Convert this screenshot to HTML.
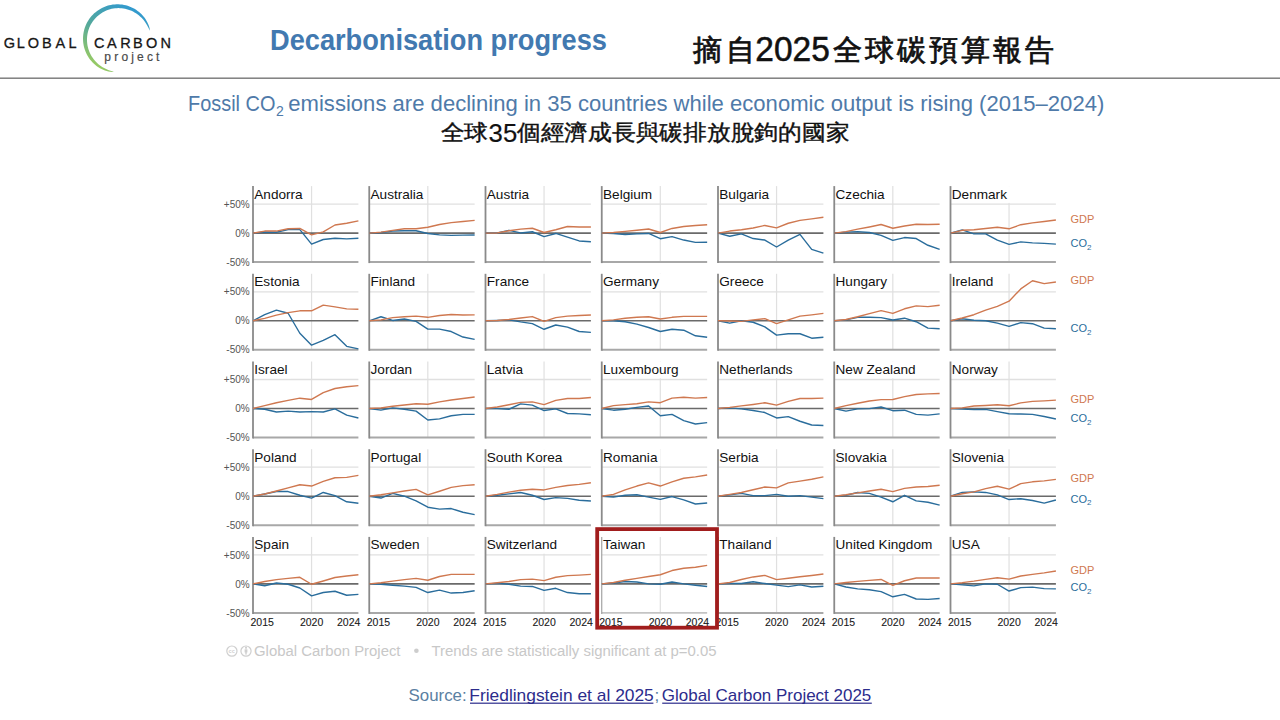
<!DOCTYPE html>
<html><head><meta charset="utf-8">
<style>
html,body{margin:0;padding:0;background:#fff;}
body{width:1280px;height:720px;position:relative;overflow:hidden;font-family:"Liberation Sans",sans-serif;}
svg{position:absolute;left:0;top:0;font-family:"Liberation Sans",sans-serif;}
text.cn{font-size:13.6px;fill:#111;}
text.yl{font-size:10px;fill:#555;}
text.yr{font-size:10.5px;fill:#1a1a1a;stroke:#1a1a1a;stroke-width:0.1px;}
text.lg{font-size:11px;}
</style></head><body>
<svg width="1280" height="720" viewBox="0 0 1280 720">
<rect x="0" y="77.6" width="1280" height="1.1" fill="#505050"/>
<defs><linearGradient id="arcg" gradientUnits="userSpaceOnUse" x1="140" y1="8" x2="100" y2="72">
<stop offset="0" stop-color="#2e98d4"/><stop offset="0.55" stop-color="#55a99a"/><stop offset="1" stop-color="#9fce5e"/></linearGradient></defs>
<path d="M149.88,30.66 L149.71,28.84 L149.26,27.08 L148.68,25.35 L147.99,23.66 L147.19,22.01 L146.30,20.41 L145.31,18.86 L144.23,17.36 L143.06,15.93 L141.82,14.56 L140.49,13.26 L139.09,12.04 L137.63,10.89 L136.10,9.82 L134.51,8.84 L132.87,7.95 L131.17,7.15 L129.44,6.44 L127.66,5.83 L125.85,5.32 L124.02,4.91 L122.16,4.60 L120.29,4.39 L118.40,4.29 L116.51,4.29 L114.63,4.39 L112.75,4.60 L110.88,4.91 L109.03,5.33 L107.21,5.84 L105.42,6.46 L103.66,7.17 L101.94,7.98 L100.27,8.88 L98.66,9.88 L97.10,10.96 L95.60,12.13 L94.16,13.37 L92.80,14.70 L91.51,16.09 L90.30,17.56 L89.18,19.09 L88.14,20.68 L87.18,22.32 L86.32,24.02 L85.56,25.75 L84.89,27.53 L84.32,29.34 L83.85,31.18 L83.49,33.04 L83.22,34.91 L83.06,36.80 L83.01,38.69 L83.06,40.58 L83.21,42.47 L83.47,44.34 L83.82,46.19 L84.28,48.02 L84.84,49.82 L85.50,51.58 L86.25,53.30 L87.10,54.98 L88.03,56.60 L89.06,58.17 L90.16,59.68 L91.35,61.12 L92.61,62.49 L93.95,63.79 L95.35,65.00 L96.82,66.14 L98.35,67.19 L99.93,68.15 L101.55,69.01 L103.22,69.78 L104.93,70.45 L106.68,71.02 L108.44,71.48 L110.23,71.82 L112.04,72.02 L113.86,71.94 L113.86,71.94 L112.17,71.31 L110.48,70.79 L108.82,70.21 L107.20,69.56 L105.61,68.84 L104.07,68.04 L102.57,67.18 L101.12,66.24 L99.72,65.22 L98.39,64.15 L97.11,63.00 L95.90,61.79 L94.75,60.53 L93.67,59.21 L92.67,57.83 L91.74,56.41 L90.89,54.94 L90.12,53.43 L89.43,51.89 L88.82,50.31 L88.30,48.71 L87.86,47.08 L87.51,45.43 L87.25,43.77 L87.08,42.10 L86.99,40.43 L87.00,38.75 L87.09,37.08 L87.27,35.41 L87.54,33.76 L87.90,32.13 L88.34,30.51 L88.86,28.93 L89.47,27.37 L90.16,25.85 L90.93,24.37 L91.78,22.94 L92.70,21.55 L93.69,20.21 L94.75,18.92 L95.88,17.69 L97.07,16.53 L98.33,15.43 L99.64,14.39 L101.00,13.43 L102.41,12.54 L103.87,11.73 L105.37,10.99 L106.91,10.33 L108.48,9.76 L110.08,9.27 L111.70,8.86 L113.35,8.55 L115.01,8.31 L116.68,8.17 L118.36,8.12 L120.04,8.15 L121.72,8.27 L123.39,8.48 L125.05,8.78 L126.69,9.17 L128.32,9.65 L129.92,10.20 L131.49,10.85 L133.02,11.58 L134.52,12.38 L135.98,13.27 L137.39,14.24 L138.75,15.27 L140.05,16.38 L141.30,17.56 L142.49,18.81 L143.62,20.11 L144.69,21.48 L145.68,22.90 L146.61,24.38 L147.47,25.90 L148.27,27.46 L149.02,29.06 L149.88,30.66Z" fill="url(#arcg)"/>
<text x="3.70 16.80 27.80 42.10 55.60 68.50" y="47.6" font-size="14.5" fill="#161616" stroke="#161616" stroke-width="0.3">GLOBAL</text>
<text x="93.90 106.90 120.20 132.90 145.90 160.60" y="47.6" font-size="14.5" fill="#161616" stroke="#161616" stroke-width="0.3">CARBON</text>
<text x="104.20 114.20 121.60 131.20 137.10 147.10 155.90" y="60.6" font-size="12" fill="#4a4a4a" stroke="#4a4a4a" stroke-width="0.2">project</text>
<text x="270" y="50" font-size="29.5" font-weight="bold" fill="#4279b0" textLength="337" lengthAdjust="spacingAndGlyphs">Decarbonisation progress</text>
<text x="692.50" y="59.5" font-size="29" fill="#111" stroke="#111" stroke-width="0.75">摘</text>
<text x="726.30" y="59.5" font-size="29" fill="#111" stroke="#111" stroke-width="0.75">自</text>
<text x="832.50" y="59.5" font-size="29" fill="#111" stroke="#111" stroke-width="0.75">全</text>
<text x="864.50" y="59.5" font-size="29" fill="#111" stroke="#111" stroke-width="0.75">球</text>
<text x="896.50" y="59.5" font-size="29" fill="#111" stroke="#111" stroke-width="0.75">碳</text>
<text x="928.70" y="59.5" font-size="29" fill="#111" stroke="#111" stroke-width="0.75">預</text>
<text x="960.70" y="59.5" font-size="29" fill="#111" stroke="#111" stroke-width="0.75">算</text>
<text x="992.70" y="59.5" font-size="29" fill="#111" stroke="#111" stroke-width="0.75">報</text>
<text x="1024.50" y="59.5" font-size="29" fill="#111" stroke="#111" stroke-width="0.75">告</text>
<text x="755.3" y="61.3" font-size="35.5" fill="#111" stroke="#111" stroke-width="0.55" textLength="74.5" lengthAdjust="spacingAndGlyphs">2025</text>
<text y="110.9" font-size="21.5" fill="#4f7aa9"><tspan x="188" textLength="87.5" lengthAdjust="spacingAndGlyphs">Fossil CO</tspan></text>
<text x="276" y="115.5" font-size="14" fill="#4f7aa9">2</text>
<text y="110.9" font-size="21.5" fill="#4f7aa9"><tspan x="288.3" textLength="816" lengthAdjust="spacingAndGlyphs">emissions are declining in 35 countries while economic output is rising (2015–2024)</tspan></text>
<text transform="translate(440.90,140) scale(1.08,1)" font-size="21.6" fill="#111" stroke="#111" stroke-width="0.4">全</text>
<text transform="translate(463.90,140) scale(1.08,1)" font-size="21.6" fill="#111" stroke="#111" stroke-width="0.4">球</text>
<text transform="translate(516.90,140) scale(1.08,1)" font-size="21.6" fill="#111" stroke="#111" stroke-width="0.4">個</text>
<text transform="translate(540.65,140) scale(1.08,1)" font-size="21.6" fill="#111" stroke="#111" stroke-width="0.4">經</text>
<text transform="translate(564.40,140) scale(1.08,1)" font-size="21.6" fill="#111" stroke="#111" stroke-width="0.4">濟</text>
<text transform="translate(588.15,140) scale(1.08,1)" font-size="21.6" fill="#111" stroke="#111" stroke-width="0.4">成</text>
<text transform="translate(611.90,140) scale(1.08,1)" font-size="21.6" fill="#111" stroke="#111" stroke-width="0.4">長</text>
<text transform="translate(635.65,140) scale(1.08,1)" font-size="21.6" fill="#111" stroke="#111" stroke-width="0.4">與</text>
<text transform="translate(659.40,140) scale(1.08,1)" font-size="21.6" fill="#111" stroke="#111" stroke-width="0.4">碳</text>
<text transform="translate(683.15,140) scale(1.08,1)" font-size="21.6" fill="#111" stroke="#111" stroke-width="0.4">排</text>
<text transform="translate(706.90,140) scale(1.08,1)" font-size="21.6" fill="#111" stroke="#111" stroke-width="0.4">放</text>
<text transform="translate(730.65,140) scale(1.08,1)" font-size="21.6" fill="#111" stroke="#111" stroke-width="0.4">脫</text>
<text transform="translate(754.40,140) scale(1.08,1)" font-size="21.6" fill="#111" stroke="#111" stroke-width="0.4">鉤</text>
<text transform="translate(778.15,140) scale(1.08,1)" font-size="21.6" fill="#111" stroke="#111" stroke-width="0.4">的</text>
<text transform="translate(801.90,140) scale(1.08,1)" font-size="21.6" fill="#111" stroke="#111" stroke-width="0.4">國</text>
<text transform="translate(825.65,140) scale(1.08,1)" font-size="21.6" fill="#111" stroke="#111" stroke-width="0.4">家</text>
<text x="488.6" y="141.6" font-size="25.5" fill="#111" stroke="#111" stroke-width="0.2" textLength="28.6" lengthAdjust="spacingAndGlyphs">35</text>
<line x1="253.00" y1="204.10" x2="358.40" y2="204.10" stroke="#e0e0e0" stroke-width="1.3"/>
<line x1="311.56" y1="186.10" x2="311.56" y2="262.10" stroke="#e0e0e0" stroke-width="1.2"/>
<rect x="254.00" y="186.10" width="51.88" height="16.80" fill="#fff"/>
<text x="254.30" y="198.50" class="cn">Andorra</text>
<line x1="253.00" y1="233.10" x2="358.40" y2="233.10" stroke="#6a6a6a" stroke-width="1.6"/>
<line x1="253.00" y1="262.10" x2="358.40" y2="262.10" stroke="#a8a8a8" stroke-width="2"/>
<line x1="253.00" y1="186.10" x2="253.00" y2="263.10" stroke="#8a8a8a" stroke-width="1.8"/>
<polyline points="253.00,233.10 264.71,231.94 276.42,232.23 288.13,229.62 299.84,229.62 311.56,244.12 323.27,239.48 334.98,238.32 346.69,238.90 358.40,238.32" fill="none" stroke="#2a6d9c" stroke-width="1.4" stroke-linejoin="round"/>
<polyline points="253.00,233.10 264.71,231.07 276.42,231.07 288.13,228.75 299.84,228.46 311.56,234.84 323.27,231.94 334.98,224.98 346.69,223.24 358.40,220.92" fill="none" stroke="#cf7850" stroke-width="1.4" stroke-linejoin="round"/>
<line x1="369.25" y1="204.10" x2="474.65" y2="204.10" stroke="#e0e0e0" stroke-width="1.3"/>
<line x1="427.81" y1="186.10" x2="427.81" y2="262.10" stroke="#e0e0e0" stroke-width="1.2"/>
<rect x="370.25" y="186.10" width="56.41" height="16.80" fill="#fff"/>
<text x="370.55" y="198.50" class="cn">Australia</text>
<line x1="369.25" y1="233.10" x2="474.65" y2="233.10" stroke="#6a6a6a" stroke-width="1.6"/>
<line x1="369.25" y1="262.10" x2="474.65" y2="262.10" stroke="#a8a8a8" stroke-width="2"/>
<line x1="369.25" y1="186.10" x2="369.25" y2="263.10" stroke="#8a8a8a" stroke-width="1.8"/>
<polyline points="369.25,233.10 380.96,232.52 392.67,231.07 404.38,230.78 416.09,230.78 427.81,233.45 439.52,234.84 451.23,235.42 462.94,235.13 474.65,234.96" fill="none" stroke="#2a6d9c" stroke-width="1.4" stroke-linejoin="round"/>
<polyline points="369.25,233.10 380.96,232.17 392.67,230.32 404.38,228.81 416.09,228.81 427.81,227.30 439.52,224.52 451.23,222.66 462.94,221.50 474.65,220.34" fill="none" stroke="#cf7850" stroke-width="1.4" stroke-linejoin="round"/>
<line x1="485.50" y1="204.10" x2="590.90" y2="204.10" stroke="#e0e0e0" stroke-width="1.3"/>
<line x1="544.06" y1="186.10" x2="544.06" y2="262.10" stroke="#e0e0e0" stroke-width="1.2"/>
<rect x="486.50" y="186.10" width="45.83" height="16.80" fill="#fff"/>
<text x="486.80" y="198.50" class="cn">Austria</text>
<line x1="485.50" y1="233.10" x2="590.90" y2="233.10" stroke="#6a6a6a" stroke-width="1.6"/>
<line x1="485.50" y1="262.10" x2="590.90" y2="262.10" stroke="#a8a8a8" stroke-width="2"/>
<line x1="485.50" y1="186.10" x2="485.50" y2="263.10" stroke="#8a8a8a" stroke-width="1.8"/>
<polyline points="485.50,233.10 497.21,232.93 508.92,230.32 520.63,232.93 532.34,231.77 544.06,236.58 555.77,233.45 567.48,237.16 579.19,240.93 590.90,241.80" fill="none" stroke="#2a6d9c" stroke-width="1.4" stroke-linejoin="round"/>
<polyline points="485.50,233.10 497.21,232.93 508.92,230.78 520.63,229.16 532.34,228.23 544.06,232.52 555.77,229.74 567.48,226.55 579.19,226.95 590.90,226.95" fill="none" stroke="#cf7850" stroke-width="1.4" stroke-linejoin="round"/>
<line x1="601.75" y1="204.10" x2="707.15" y2="204.10" stroke="#e0e0e0" stroke-width="1.3"/>
<line x1="660.31" y1="186.10" x2="660.31" y2="262.10" stroke="#e0e0e0" stroke-width="1.2"/>
<rect x="602.75" y="186.10" width="52.63" height="16.80" fill="#fff"/>
<text x="603.05" y="198.50" class="cn">Belgium</text>
<line x1="601.75" y1="233.10" x2="707.15" y2="233.10" stroke="#6a6a6a" stroke-width="1.6"/>
<line x1="601.75" y1="262.10" x2="707.15" y2="262.10" stroke="#a8a8a8" stroke-width="2"/>
<line x1="601.75" y1="186.10" x2="601.75" y2="263.10" stroke="#8a8a8a" stroke-width="1.8"/>
<polyline points="601.75,233.10 613.46,233.45 625.17,234.43 636.88,233.85 648.59,233.45 660.31,238.73 672.02,236.58 683.73,240.06 695.44,242.38 707.15,242.26" fill="none" stroke="#2a6d9c" stroke-width="1.4" stroke-linejoin="round"/>
<polyline points="601.75,233.10 613.46,232.52 625.17,231.42 636.88,230.32 648.59,229.04 660.31,232.52 672.02,228.46 683.73,226.55 695.44,225.44 707.15,224.69" fill="none" stroke="#cf7850" stroke-width="1.4" stroke-linejoin="round"/>
<line x1="718.00" y1="204.10" x2="823.40" y2="204.10" stroke="#e0e0e0" stroke-width="1.3"/>
<line x1="776.56" y1="186.10" x2="776.56" y2="262.10" stroke="#e0e0e0" stroke-width="1.2"/>
<rect x="719.00" y="186.10" width="53.40" height="16.80" fill="#fff"/>
<text x="719.30" y="198.50" class="cn">Bulgaria</text>
<line x1="718.00" y1="233.10" x2="823.40" y2="233.10" stroke="#6a6a6a" stroke-width="1.6"/>
<line x1="718.00" y1="262.10" x2="823.40" y2="262.10" stroke="#a8a8a8" stroke-width="2"/>
<line x1="718.00" y1="186.10" x2="718.00" y2="263.10" stroke="#8a8a8a" stroke-width="1.8"/>
<polyline points="718.00,233.10 729.71,236.29 741.42,233.85 753.13,238.55 764.84,240.06 776.56,247.02 788.27,240.06 799.98,234.43 811.69,249.34 823.40,253.11" fill="none" stroke="#2a6d9c" stroke-width="1.4" stroke-linejoin="round"/>
<polyline points="718.00,233.10 729.71,231.07 741.42,229.74 753.13,228.05 764.84,225.44 776.56,227.88 788.27,223.24 799.98,220.34 811.69,218.89 823.40,217.21" fill="none" stroke="#cf7850" stroke-width="1.4" stroke-linejoin="round"/>
<line x1="834.25" y1="204.10" x2="939.65" y2="204.10" stroke="#e0e0e0" stroke-width="1.3"/>
<line x1="892.81" y1="186.10" x2="892.81" y2="262.10" stroke="#e0e0e0" stroke-width="1.2"/>
<rect x="835.25" y="186.10" width="52.63" height="16.80" fill="#fff"/>
<text x="835.55" y="198.50" class="cn">Czechia</text>
<line x1="834.25" y1="233.10" x2="939.65" y2="233.10" stroke="#6a6a6a" stroke-width="1.6"/>
<line x1="834.25" y1="262.10" x2="939.65" y2="262.10" stroke="#a8a8a8" stroke-width="2"/>
<line x1="834.25" y1="186.10" x2="834.25" y2="263.10" stroke="#8a8a8a" stroke-width="1.8"/>
<polyline points="834.25,233.10 845.96,232.17 857.67,231.59 869.38,232.52 881.09,235.36 892.81,240.41 904.52,237.57 916.23,238.55 927.94,245.28 939.65,249.34" fill="none" stroke="#2a6d9c" stroke-width="1.4" stroke-linejoin="round"/>
<polyline points="834.25,233.10 845.96,231.59 857.67,229.16 869.38,226.95 881.09,224.52 892.81,228.23 904.52,225.97 916.23,224.28 927.94,224.52 939.65,224.28" fill="none" stroke="#cf7850" stroke-width="1.4" stroke-linejoin="round"/>
<line x1="950.50" y1="204.10" x2="1055.90" y2="204.10" stroke="#e0e0e0" stroke-width="1.3"/>
<line x1="1009.06" y1="186.10" x2="1009.06" y2="262.10" stroke="#e0e0e0" stroke-width="1.2"/>
<rect x="951.50" y="186.10" width="58.67" height="16.80" fill="#fff"/>
<text x="951.80" y="198.50" class="cn">Denmark</text>
<line x1="950.50" y1="233.10" x2="1055.90" y2="233.10" stroke="#6a6a6a" stroke-width="1.6"/>
<line x1="950.50" y1="262.10" x2="1055.90" y2="262.10" stroke="#a8a8a8" stroke-width="2"/>
<line x1="950.50" y1="186.10" x2="950.50" y2="263.10" stroke="#8a8a8a" stroke-width="1.8"/>
<polyline points="950.50,233.10 962.21,229.91 973.92,233.85 985.63,233.85 997.34,240.06 1009.06,244.35 1020.77,241.92 1032.48,242.84 1044.19,243.37 1055.90,244.12" fill="none" stroke="#2a6d9c" stroke-width="1.4" stroke-linejoin="round"/>
<polyline points="950.50,233.10 962.21,230.32 973.92,229.74 985.63,228.46 997.34,227.30 1009.06,228.81 1020.77,224.69 1032.48,222.83 1044.19,221.50 1055.90,219.99" fill="none" stroke="#cf7850" stroke-width="1.4" stroke-linejoin="round"/>
<text x="249.7" y="207.70" class="yl" text-anchor="end">+50%</text>
<text x="249.7" y="236.70" class="yl" text-anchor="end">0%</text>
<text x="249.7" y="265.70" class="yl" text-anchor="end">-50%</text>
<line x1="253.00" y1="291.80" x2="358.40" y2="291.80" stroke="#e0e0e0" stroke-width="1.3"/>
<line x1="311.56" y1="273.80" x2="311.56" y2="349.80" stroke="#e0e0e0" stroke-width="1.2"/>
<rect x="254.00" y="273.80" width="48.86" height="16.80" fill="#fff"/>
<text x="254.30" y="286.20" class="cn">Estonia</text>
<line x1="253.00" y1="320.80" x2="358.40" y2="320.80" stroke="#6a6a6a" stroke-width="1.6"/>
<line x1="253.00" y1="349.80" x2="358.40" y2="349.80" stroke="#a8a8a8" stroke-width="2"/>
<line x1="253.00" y1="273.80" x2="253.00" y2="350.80" stroke="#8a8a8a" stroke-width="1.8"/>
<polyline points="253.00,320.80 264.71,314.54 276.42,310.19 288.13,313.26 299.84,333.27 311.56,345.16 323.27,340.29 334.98,334.72 346.69,346.32 358.40,348.93" fill="none" stroke="#2a6d9c" stroke-width="1.4" stroke-linejoin="round"/>
<polyline points="253.00,320.80 264.71,318.31 276.42,315.17 288.13,312.68 299.84,310.82 311.56,310.82 323.27,305.14 334.98,306.88 346.69,308.91 358.40,309.20" fill="none" stroke="#cf7850" stroke-width="1.4" stroke-linejoin="round"/>
<line x1="369.25" y1="291.80" x2="474.65" y2="291.80" stroke="#e0e0e0" stroke-width="1.3"/>
<line x1="427.81" y1="273.80" x2="427.81" y2="349.80" stroke="#e0e0e0" stroke-width="1.2"/>
<rect x="370.25" y="273.80" width="48.10" height="16.80" fill="#fff"/>
<text x="370.55" y="286.20" class="cn">Finland</text>
<line x1="369.25" y1="320.80" x2="474.65" y2="320.80" stroke="#6a6a6a" stroke-width="1.6"/>
<line x1="369.25" y1="349.80" x2="474.65" y2="349.80" stroke="#a8a8a8" stroke-width="2"/>
<line x1="369.25" y1="273.80" x2="369.25" y2="350.80" stroke="#8a8a8a" stroke-width="1.8"/>
<polyline points="369.25,320.80 380.96,316.74 392.67,320.45 404.38,319.06 416.09,321.38 427.81,329.09 439.52,329.09 451.23,331.53 462.94,337.04 474.65,339.36" fill="none" stroke="#2a6d9c" stroke-width="1.4" stroke-linejoin="round"/>
<polyline points="369.25,320.80 380.96,319.87 392.67,317.67 404.38,316.74 416.09,316.16 427.81,317.32 439.52,315.46 451.23,314.54 462.94,315.06 474.65,314.88" fill="none" stroke="#cf7850" stroke-width="1.4" stroke-linejoin="round"/>
<line x1="485.50" y1="291.80" x2="590.90" y2="291.80" stroke="#e0e0e0" stroke-width="1.3"/>
<line x1="544.06" y1="273.80" x2="544.06" y2="349.80" stroke="#e0e0e0" stroke-width="1.2"/>
<rect x="486.50" y="273.80" width="45.82" height="16.80" fill="#fff"/>
<text x="486.80" y="286.20" class="cn">France</text>
<line x1="485.50" y1="320.80" x2="590.90" y2="320.80" stroke="#6a6a6a" stroke-width="1.6"/>
<line x1="485.50" y1="349.80" x2="590.90" y2="349.80" stroke="#a8a8a8" stroke-width="2"/>
<line x1="485.50" y1="273.80" x2="485.50" y2="350.80" stroke="#8a8a8a" stroke-width="1.8"/>
<polyline points="485.50,320.80 497.21,320.45 508.92,319.87 520.63,321.90 532.34,323.58 544.06,329.27 555.77,325.03 567.48,327.18 579.19,331.53 590.90,332.40" fill="none" stroke="#2a6d9c" stroke-width="1.4" stroke-linejoin="round"/>
<polyline points="485.50,320.80 497.21,320.45 508.92,319.52 520.63,318.02 532.34,316.57 544.06,321.38 555.77,317.67 567.48,316.16 579.19,315.46 590.90,315.06" fill="none" stroke="#cf7850" stroke-width="1.4" stroke-linejoin="round"/>
<line x1="601.75" y1="291.80" x2="707.15" y2="291.80" stroke="#e0e0e0" stroke-width="1.3"/>
<line x1="660.31" y1="273.80" x2="660.31" y2="349.80" stroke="#e0e0e0" stroke-width="1.2"/>
<rect x="602.75" y="273.80" width="59.42" height="16.80" fill="#fff"/>
<text x="603.05" y="286.20" class="cn">Germany</text>
<line x1="601.75" y1="320.80" x2="707.15" y2="320.80" stroke="#6a6a6a" stroke-width="1.6"/>
<line x1="601.75" y1="349.80" x2="707.15" y2="349.80" stroke="#a8a8a8" stroke-width="2"/>
<line x1="601.75" y1="273.80" x2="601.75" y2="350.80" stroke="#8a8a8a" stroke-width="1.8"/>
<polyline points="601.75,320.80 613.46,320.80 625.17,321.73 636.88,324.11 648.59,327.47 660.31,331.53 672.02,329.27 683.73,330.20 695.44,335.76 707.15,337.21" fill="none" stroke="#2a6d9c" stroke-width="1.4" stroke-linejoin="round"/>
<polyline points="601.75,320.80 613.46,319.87 625.17,318.19 636.88,317.32 648.59,316.74 660.31,318.94 672.02,317.32 683.73,316.39 695.44,316.39 707.15,316.39" fill="none" stroke="#cf7850" stroke-width="1.4" stroke-linejoin="round"/>
<line x1="718.00" y1="291.80" x2="823.40" y2="291.80" stroke="#e0e0e0" stroke-width="1.3"/>
<line x1="776.56" y1="273.80" x2="776.56" y2="349.80" stroke="#e0e0e0" stroke-width="1.2"/>
<rect x="719.00" y="273.80" width="48.10" height="16.80" fill="#fff"/>
<text x="719.30" y="286.20" class="cn">Greece</text>
<line x1="718.00" y1="320.80" x2="823.40" y2="320.80" stroke="#6a6a6a" stroke-width="1.6"/>
<line x1="718.00" y1="349.80" x2="823.40" y2="349.80" stroke="#a8a8a8" stroke-width="2"/>
<line x1="718.00" y1="273.80" x2="718.00" y2="350.80" stroke="#8a8a8a" stroke-width="1.8"/>
<polyline points="718.00,320.80 729.71,323.18 741.42,320.80 753.13,322.25 764.84,326.89 776.56,335.18 788.27,333.73 799.98,333.73 811.69,338.20 823.40,337.21" fill="none" stroke="#2a6d9c" stroke-width="1.4" stroke-linejoin="round"/>
<polyline points="718.00,320.80 729.71,320.97 741.42,321.38 753.13,319.87 764.84,318.60 776.56,323.58 788.27,319.87 799.98,316.16 811.69,314.88 823.40,313.43" fill="none" stroke="#cf7850" stroke-width="1.4" stroke-linejoin="round"/>
<line x1="834.25" y1="291.80" x2="939.65" y2="291.80" stroke="#e0e0e0" stroke-width="1.3"/>
<line x1="892.81" y1="273.80" x2="892.81" y2="349.80" stroke="#e0e0e0" stroke-width="1.2"/>
<rect x="835.25" y="273.80" width="54.90" height="16.80" fill="#fff"/>
<text x="835.55" y="286.20" class="cn">Hungary</text>
<line x1="834.25" y1="320.80" x2="939.65" y2="320.80" stroke="#6a6a6a" stroke-width="1.6"/>
<line x1="834.25" y1="349.80" x2="939.65" y2="349.80" stroke="#a8a8a8" stroke-width="2"/>
<line x1="834.25" y1="273.80" x2="834.25" y2="350.80" stroke="#8a8a8a" stroke-width="1.8"/>
<polyline points="834.25,320.80 845.96,319.87 857.67,317.32 869.38,317.32 881.09,317.67 892.81,320.05 904.52,318.19 916.23,321.73 927.94,328.17 939.65,328.75" fill="none" stroke="#2a6d9c" stroke-width="1.4" stroke-linejoin="round"/>
<polyline points="834.25,320.80 845.96,319.52 857.67,316.74 869.38,313.61 881.09,310.65 892.81,313.43 904.52,308.79 916.23,305.84 927.94,306.59 939.65,305.26" fill="none" stroke="#cf7850" stroke-width="1.4" stroke-linejoin="round"/>
<line x1="950.50" y1="291.80" x2="1055.90" y2="291.80" stroke="#e0e0e0" stroke-width="1.3"/>
<line x1="1009.06" y1="273.80" x2="1009.06" y2="349.80" stroke="#e0e0e0" stroke-width="1.2"/>
<rect x="951.50" y="273.80" width="45.08" height="16.80" fill="#fff"/>
<text x="951.80" y="286.20" class="cn">Ireland</text>
<line x1="950.50" y1="320.80" x2="1055.90" y2="320.80" stroke="#6a6a6a" stroke-width="1.6"/>
<line x1="950.50" y1="349.80" x2="1055.90" y2="349.80" stroke="#a8a8a8" stroke-width="2"/>
<line x1="950.50" y1="273.80" x2="950.50" y2="350.80" stroke="#8a8a8a" stroke-width="1.8"/>
<polyline points="950.50,320.80 962.21,318.77 973.92,320.22 985.63,320.80 997.34,323.12 1009.06,326.31 1020.77,322.66 1032.48,323.70 1044.19,328.17 1055.90,328.75" fill="none" stroke="#2a6d9c" stroke-width="1.4" stroke-linejoin="round"/>
<polyline points="950.50,320.80 962.21,318.02 973.92,314.71 985.63,310.07 997.34,306.30 1009.06,301.20 1020.77,288.90 1032.48,280.78 1044.19,283.68 1055.90,281.94" fill="none" stroke="#cf7850" stroke-width="1.4" stroke-linejoin="round"/>
<text x="249.7" y="295.40" class="yl" text-anchor="end">+50%</text>
<text x="249.7" y="324.40" class="yl" text-anchor="end">0%</text>
<text x="249.7" y="353.40" class="yl" text-anchor="end">-50%</text>
<line x1="253.00" y1="379.50" x2="358.40" y2="379.50" stroke="#e0e0e0" stroke-width="1.3"/>
<line x1="311.56" y1="361.50" x2="311.56" y2="437.50" stroke="#e0e0e0" stroke-width="1.2"/>
<rect x="254.00" y="361.50" width="36.75" height="16.80" fill="#fff"/>
<text x="254.30" y="373.90" class="cn">Israel</text>
<line x1="253.00" y1="408.50" x2="358.40" y2="408.50" stroke="#6a6a6a" stroke-width="1.6"/>
<line x1="253.00" y1="437.50" x2="358.40" y2="437.50" stroke="#a8a8a8" stroke-width="2"/>
<line x1="253.00" y1="361.50" x2="253.00" y2="438.50" stroke="#8a8a8a" stroke-width="1.8"/>
<polyline points="253.00,408.50 264.71,409.25 276.42,411.98 288.13,411.11 299.84,411.98 311.56,411.63 323.27,411.98 334.98,408.85 346.69,415.17 358.40,417.95" fill="none" stroke="#2a6d9c" stroke-width="1.4" stroke-linejoin="round"/>
<polyline points="253.00,408.50 264.71,405.60 276.42,402.70 288.13,400.38 299.84,398.18 311.56,399.45 323.27,392.61 334.98,388.49 346.69,386.75 358.40,385.59" fill="none" stroke="#cf7850" stroke-width="1.4" stroke-linejoin="round"/>
<line x1="369.25" y1="379.50" x2="474.65" y2="379.50" stroke="#e0e0e0" stroke-width="1.3"/>
<line x1="427.81" y1="361.50" x2="427.81" y2="437.50" stroke="#e0e0e0" stroke-width="1.2"/>
<rect x="370.25" y="361.50" width="45.08" height="16.80" fill="#fff"/>
<text x="370.55" y="373.90" class="cn">Jordan</text>
<line x1="369.25" y1="408.50" x2="474.65" y2="408.50" stroke="#6a6a6a" stroke-width="1.6"/>
<line x1="369.25" y1="437.50" x2="474.65" y2="437.50" stroke="#a8a8a8" stroke-width="2"/>
<line x1="369.25" y1="361.50" x2="369.25" y2="438.50" stroke="#8a8a8a" stroke-width="1.8"/>
<polyline points="369.25,408.50 380.96,410.18 392.67,407.92 404.38,409.25 416.09,411.11 427.81,419.98 439.52,418.88 451.23,415.75 462.94,414.42 474.65,414.42" fill="none" stroke="#2a6d9c" stroke-width="1.4" stroke-linejoin="round"/>
<polyline points="369.25,408.50 380.96,407.92 392.67,406.30 404.38,405.02 416.09,403.69 427.81,404.21 439.52,401.83 451.23,399.97 462.94,398.47 474.65,397.02" fill="none" stroke="#cf7850" stroke-width="1.4" stroke-linejoin="round"/>
<line x1="485.50" y1="379.50" x2="590.90" y2="379.50" stroke="#e0e0e0" stroke-width="1.3"/>
<line x1="544.06" y1="361.50" x2="544.06" y2="437.50" stroke="#e0e0e0" stroke-width="1.2"/>
<rect x="486.50" y="361.50" width="39.79" height="16.80" fill="#fff"/>
<text x="486.80" y="373.90" class="cn">Latvia</text>
<line x1="485.50" y1="408.50" x2="590.90" y2="408.50" stroke="#6a6a6a" stroke-width="1.6"/>
<line x1="485.50" y1="437.50" x2="590.90" y2="437.50" stroke="#a8a8a8" stroke-width="2"/>
<line x1="485.50" y1="361.50" x2="485.50" y2="438.50" stroke="#8a8a8a" stroke-width="1.8"/>
<polyline points="485.50,408.50 497.21,408.67 508.92,409.25 520.63,403.86 532.34,405.14 544.06,410.53 555.77,408.85 567.48,413.49 579.19,413.89 590.90,414.82" fill="none" stroke="#2a6d9c" stroke-width="1.4" stroke-linejoin="round"/>
<polyline points="485.50,408.50 497.21,406.99 508.92,404.79 520.63,402.41 532.34,401.83 544.06,404.61 555.77,400.38 567.48,398.47 579.19,398.47 590.90,397.48" fill="none" stroke="#cf7850" stroke-width="1.4" stroke-linejoin="round"/>
<line x1="601.75" y1="379.50" x2="707.15" y2="379.50" stroke="#e0e0e0" stroke-width="1.3"/>
<line x1="660.31" y1="361.50" x2="660.31" y2="437.50" stroke="#e0e0e0" stroke-width="1.2"/>
<rect x="602.75" y="361.50" width="79.10" height="16.80" fill="#fff"/>
<text x="603.05" y="373.90" class="cn">Luxembourg</text>
<line x1="601.75" y1="408.50" x2="707.15" y2="408.50" stroke="#6a6a6a" stroke-width="1.6"/>
<line x1="601.75" y1="437.50" x2="707.15" y2="437.50" stroke="#a8a8a8" stroke-width="2"/>
<line x1="601.75" y1="361.50" x2="601.75" y2="438.50" stroke="#8a8a8a" stroke-width="1.8"/>
<polyline points="601.75,408.50 613.46,410.18 625.17,409.25 636.88,407.40 648.59,406.06 660.31,415.75 672.02,414.42 683.73,420.68 695.44,424.04 707.15,422.59" fill="none" stroke="#2a6d9c" stroke-width="1.4" stroke-linejoin="round"/>
<polyline points="601.75,408.50 613.46,405.60 625.17,404.61 636.88,403.69 648.59,401.83 660.31,402.70 672.02,398.12 683.73,397.19 695.44,398.12 707.15,397.48" fill="none" stroke="#cf7850" stroke-width="1.4" stroke-linejoin="round"/>
<line x1="718.00" y1="379.50" x2="823.40" y2="379.50" stroke="#e0e0e0" stroke-width="1.3"/>
<line x1="776.56" y1="361.50" x2="776.56" y2="437.50" stroke="#e0e0e0" stroke-width="1.2"/>
<rect x="719.00" y="361.50" width="76.83" height="16.80" fill="#fff"/>
<text x="719.30" y="373.90" class="cn">Netherlands</text>
<line x1="718.00" y1="408.50" x2="823.40" y2="408.50" stroke="#6a6a6a" stroke-width="1.6"/>
<line x1="718.00" y1="437.50" x2="823.40" y2="437.50" stroke="#a8a8a8" stroke-width="2"/>
<line x1="718.00" y1="361.50" x2="718.00" y2="438.50" stroke="#8a8a8a" stroke-width="1.8"/>
<polyline points="718.00,408.50 729.71,407.92 741.42,408.85 753.13,410.53 764.84,412.56 776.56,417.95 788.27,416.62 799.98,421.26 811.69,424.97 823.40,425.55" fill="none" stroke="#2a6d9c" stroke-width="1.4" stroke-linejoin="round"/>
<polyline points="718.00,408.50 729.71,407.40 741.42,405.89 753.13,404.44 764.84,402.76 776.56,405.14 788.27,401.42 799.98,398.47 811.69,398.47 823.40,398.12" fill="none" stroke="#cf7850" stroke-width="1.4" stroke-linejoin="round"/>
<line x1="834.25" y1="379.50" x2="939.65" y2="379.50" stroke="#e0e0e0" stroke-width="1.3"/>
<line x1="892.81" y1="361.50" x2="892.81" y2="437.50" stroke="#e0e0e0" stroke-width="1.2"/>
<rect x="835.25" y="361.50" width="83.63" height="16.80" fill="#fff"/>
<text x="835.55" y="373.90" class="cn">New Zealand</text>
<line x1="834.25" y1="408.50" x2="939.65" y2="408.50" stroke="#6a6a6a" stroke-width="1.6"/>
<line x1="834.25" y1="437.50" x2="939.65" y2="437.50" stroke="#a8a8a8" stroke-width="2"/>
<line x1="834.25" y1="361.50" x2="834.25" y2="438.50" stroke="#8a8a8a" stroke-width="1.8"/>
<polyline points="834.25,408.50 845.96,411.11 857.67,408.85 869.38,408.67 881.09,406.99 892.81,410.70 904.52,410.18 916.23,414.42 927.94,415.17 939.65,413.89" fill="none" stroke="#2a6d9c" stroke-width="1.4" stroke-linejoin="round"/>
<polyline points="834.25,408.50 845.96,405.60 857.67,403.28 869.38,400.96 881.09,399.63 892.81,399.45 904.52,396.67 916.23,394.46 927.94,393.88 939.65,393.54" fill="none" stroke="#cf7850" stroke-width="1.4" stroke-linejoin="round"/>
<line x1="950.50" y1="379.50" x2="1055.90" y2="379.50" stroke="#e0e0e0" stroke-width="1.3"/>
<line x1="1009.06" y1="361.50" x2="1009.06" y2="437.50" stroke="#e0e0e0" stroke-width="1.2"/>
<rect x="951.50" y="361.50" width="49.60" height="16.80" fill="#fff"/>
<text x="951.80" y="373.90" class="cn">Norway</text>
<line x1="950.50" y1="408.50" x2="1055.90" y2="408.50" stroke="#6a6a6a" stroke-width="1.6"/>
<line x1="950.50" y1="437.50" x2="1055.90" y2="437.50" stroke="#a8a8a8" stroke-width="2"/>
<line x1="950.50" y1="361.50" x2="950.50" y2="438.50" stroke="#8a8a8a" stroke-width="1.8"/>
<polyline points="950.50,408.50 962.21,409.08 973.92,409.66 985.63,409.37 997.34,411.57 1009.06,413.72 1020.77,414.07 1032.48,414.42 1044.19,416.50 1055.90,418.94" fill="none" stroke="#2a6d9c" stroke-width="1.4" stroke-linejoin="round"/>
<polyline points="950.50,408.50 962.21,407.92 973.92,406.01 985.63,405.43 997.34,404.79 1009.06,405.77 1020.77,402.93 1032.48,401.37 1044.19,400.84 1055.90,400.09" fill="none" stroke="#cf7850" stroke-width="1.4" stroke-linejoin="round"/>
<text x="249.7" y="383.10" class="yl" text-anchor="end">+50%</text>
<text x="249.7" y="412.10" class="yl" text-anchor="end">0%</text>
<text x="249.7" y="441.10" class="yl" text-anchor="end">-50%</text>
<line x1="253.00" y1="467.20" x2="358.40" y2="467.20" stroke="#e0e0e0" stroke-width="1.3"/>
<line x1="311.56" y1="449.20" x2="311.56" y2="525.20" stroke="#e0e0e0" stroke-width="1.2"/>
<rect x="254.00" y="449.20" width="45.84" height="16.80" fill="#fff"/>
<text x="254.30" y="461.60" class="cn">Poland</text>
<line x1="253.00" y1="496.20" x2="358.40" y2="496.20" stroke="#6a6a6a" stroke-width="1.6"/>
<line x1="253.00" y1="525.20" x2="358.40" y2="525.20" stroke="#a8a8a8" stroke-width="2"/>
<line x1="253.00" y1="449.20" x2="253.00" y2="526.20" stroke="#8a8a8a" stroke-width="1.8"/>
<polyline points="253.00,496.20 264.71,494.00 276.42,491.56 288.13,491.56 299.84,495.27 311.56,498.06 323.27,492.49 334.98,495.62 346.69,501.77 358.40,503.22" fill="none" stroke="#2a6d9c" stroke-width="1.4" stroke-linejoin="round"/>
<polyline points="253.00,496.20 264.71,494.00 276.42,491.04 288.13,487.91 299.84,484.77 311.56,486.05 323.27,481.41 334.98,477.76 346.69,477.35 358.40,475.32" fill="none" stroke="#cf7850" stroke-width="1.4" stroke-linejoin="round"/>
<line x1="369.25" y1="467.20" x2="474.65" y2="467.20" stroke="#e0e0e0" stroke-width="1.3"/>
<line x1="427.81" y1="449.20" x2="427.81" y2="525.20" stroke="#e0e0e0" stroke-width="1.2"/>
<rect x="370.25" y="449.20" width="54.15" height="16.80" fill="#fff"/>
<text x="370.55" y="461.60" class="cn">Portugal</text>
<line x1="369.25" y1="496.20" x2="474.65" y2="496.20" stroke="#6a6a6a" stroke-width="1.6"/>
<line x1="369.25" y1="525.20" x2="474.65" y2="525.20" stroke="#a8a8a8" stroke-width="2"/>
<line x1="369.25" y1="449.20" x2="369.25" y2="526.20" stroke="#8a8a8a" stroke-width="1.8"/>
<polyline points="369.25,496.20 380.96,498.06 392.67,493.42 404.38,496.20 416.09,500.84 427.81,507.22 439.52,509.13 451.23,508.55 462.94,512.27 474.65,514.64" fill="none" stroke="#2a6d9c" stroke-width="1.4" stroke-linejoin="round"/>
<polyline points="369.25,496.20 380.96,494.75 392.67,492.89 404.38,491.04 416.09,489.36 427.81,494.92 439.52,491.21 451.23,487.33 462.94,485.64 474.65,484.77" fill="none" stroke="#cf7850" stroke-width="1.4" stroke-linejoin="round"/>
<line x1="485.50" y1="467.20" x2="590.90" y2="467.20" stroke="#e0e0e0" stroke-width="1.3"/>
<line x1="544.06" y1="449.20" x2="544.06" y2="525.20" stroke="#e0e0e0" stroke-width="1.2"/>
<rect x="486.50" y="449.20" width="79.11" height="16.80" fill="#fff"/>
<text x="486.80" y="461.60" class="cn">South Korea</text>
<line x1="485.50" y1="496.20" x2="590.90" y2="496.20" stroke="#6a6a6a" stroke-width="1.6"/>
<line x1="485.50" y1="525.20" x2="590.90" y2="525.20" stroke="#a8a8a8" stroke-width="2"/>
<line x1="485.50" y1="449.20" x2="485.50" y2="526.20" stroke="#8a8a8a" stroke-width="1.8"/>
<polyline points="485.50,496.20 497.21,495.27 508.92,493.82 520.63,492.49 532.34,495.27 544.06,499.51 555.77,497.65 567.48,498.40 579.19,500.26 590.90,501.01" fill="none" stroke="#2a6d9c" stroke-width="1.4" stroke-linejoin="round"/>
<polyline points="485.50,496.20 497.21,494.34 508.92,492.14 520.63,490.28 532.34,489.24 544.06,489.94 555.77,487.33 567.48,485.47 579.19,484.37 590.90,482.74" fill="none" stroke="#cf7850" stroke-width="1.4" stroke-linejoin="round"/>
<line x1="601.75" y1="467.20" x2="707.15" y2="467.20" stroke="#e0e0e0" stroke-width="1.3"/>
<line x1="660.31" y1="449.20" x2="660.31" y2="525.20" stroke="#e0e0e0" stroke-width="1.2"/>
<rect x="602.75" y="449.20" width="57.92" height="16.80" fill="#fff"/>
<text x="603.05" y="461.60" class="cn">Romania</text>
<line x1="601.75" y1="496.20" x2="707.15" y2="496.20" stroke="#6a6a6a" stroke-width="1.6"/>
<line x1="601.75" y1="525.20" x2="707.15" y2="525.20" stroke="#a8a8a8" stroke-width="2"/>
<line x1="601.75" y1="449.20" x2="601.75" y2="526.20" stroke="#8a8a8a" stroke-width="1.8"/>
<polyline points="601.75,496.20 613.46,497.13 625.17,495.27 636.88,494.75 648.59,497.13 660.31,499.33 672.02,496.55 683.73,499.91 695.44,503.97 707.15,503.04" fill="none" stroke="#2a6d9c" stroke-width="1.4" stroke-linejoin="round"/>
<polyline points="601.75,496.20 613.46,494.34 625.17,489.82 636.88,486.05 648.59,482.92 660.31,486.05 672.02,481.82 683.73,478.28 695.44,476.83 707.15,474.97" fill="none" stroke="#cf7850" stroke-width="1.4" stroke-linejoin="round"/>
<line x1="718.00" y1="467.20" x2="823.40" y2="467.20" stroke="#e0e0e0" stroke-width="1.3"/>
<line x1="776.56" y1="449.20" x2="776.56" y2="525.20" stroke="#e0e0e0" stroke-width="1.2"/>
<rect x="719.00" y="449.20" width="42.81" height="16.80" fill="#fff"/>
<text x="719.30" y="461.60" class="cn">Serbia</text>
<line x1="718.00" y1="496.20" x2="823.40" y2="496.20" stroke="#6a6a6a" stroke-width="1.6"/>
<line x1="718.00" y1="525.20" x2="823.40" y2="525.20" stroke="#a8a8a8" stroke-width="2"/>
<line x1="718.00" y1="449.20" x2="718.00" y2="526.20" stroke="#8a8a8a" stroke-width="1.8"/>
<polyline points="718.00,496.20 729.71,494.92 741.42,493.42 753.13,495.62 764.84,495.62 776.56,494.34 788.27,496.20 799.98,495.62 811.69,497.13 823.40,498.58" fill="none" stroke="#2a6d9c" stroke-width="1.4" stroke-linejoin="round"/>
<polyline points="718.00,496.20 729.71,494.34 741.42,492.49 753.13,489.76 764.84,486.98 776.56,487.91 788.27,482.92 799.98,481.12 811.69,479.21 823.40,476.83" fill="none" stroke="#cf7850" stroke-width="1.4" stroke-linejoin="round"/>
<line x1="834.25" y1="467.20" x2="939.65" y2="467.20" stroke="#e0e0e0" stroke-width="1.3"/>
<line x1="892.81" y1="449.20" x2="892.81" y2="525.20" stroke="#e0e0e0" stroke-width="1.2"/>
<rect x="835.25" y="449.20" width="54.90" height="16.80" fill="#fff"/>
<text x="835.55" y="461.60" class="cn">Slovakia</text>
<line x1="834.25" y1="496.20" x2="939.65" y2="496.20" stroke="#6a6a6a" stroke-width="1.6"/>
<line x1="834.25" y1="525.20" x2="939.65" y2="525.20" stroke="#a8a8a8" stroke-width="2"/>
<line x1="834.25" y1="449.20" x2="834.25" y2="526.20" stroke="#8a8a8a" stroke-width="1.8"/>
<polyline points="834.25,496.20 845.96,495.27 857.67,492.49 869.38,493.42 881.09,497.13 892.81,501.77 904.52,495.27 916.23,500.84 927.94,502.29 939.65,505.07" fill="none" stroke="#2a6d9c" stroke-width="1.4" stroke-linejoin="round"/>
<polyline points="834.25,496.20 845.96,494.75 857.67,492.89 869.38,491.04 881.09,489.24 892.81,491.62 904.52,488.43 916.23,486.98 927.94,486.46 939.65,485.18" fill="none" stroke="#cf7850" stroke-width="1.4" stroke-linejoin="round"/>
<line x1="950.50" y1="467.20" x2="1055.90" y2="467.20" stroke="#e0e0e0" stroke-width="1.3"/>
<line x1="1009.06" y1="449.20" x2="1009.06" y2="525.20" stroke="#e0e0e0" stroke-width="1.2"/>
<rect x="951.50" y="449.20" width="55.67" height="16.80" fill="#fff"/>
<text x="951.80" y="461.60" class="cn">Slovenia</text>
<line x1="950.50" y1="496.20" x2="1055.90" y2="496.20" stroke="#6a6a6a" stroke-width="1.6"/>
<line x1="950.50" y1="525.20" x2="1055.90" y2="525.20" stroke="#a8a8a8" stroke-width="2"/>
<line x1="950.50" y1="449.20" x2="950.50" y2="526.20" stroke="#8a8a8a" stroke-width="1.8"/>
<polyline points="950.50,496.20 962.21,492.43 973.92,491.85 985.63,492.43 997.34,494.92 1009.06,499.56 1020.77,498.69 1032.48,500.55 1044.19,503.10 1055.90,499.97" fill="none" stroke="#2a6d9c" stroke-width="1.4" stroke-linejoin="round"/>
<polyline points="950.50,496.20 962.21,493.71 973.92,491.85 985.63,488.66 997.34,486.22 1009.06,489.07 1020.77,483.67 1032.48,481.82 1044.19,480.83 1055.90,479.38" fill="none" stroke="#cf7850" stroke-width="1.4" stroke-linejoin="round"/>
<text x="249.7" y="470.80" class="yl" text-anchor="end">+50%</text>
<text x="249.7" y="499.80" class="yl" text-anchor="end">0%</text>
<text x="249.7" y="528.80" class="yl" text-anchor="end">-50%</text>
<line x1="253.00" y1="554.90" x2="358.40" y2="554.90" stroke="#e0e0e0" stroke-width="1.3"/>
<line x1="311.56" y1="536.90" x2="311.56" y2="612.90" stroke="#e0e0e0" stroke-width="1.2"/>
<rect x="254.00" y="536.90" width="38.28" height="16.80" fill="#fff"/>
<text x="254.30" y="549.30" class="cn">Spain</text>
<line x1="253.00" y1="583.90" x2="358.40" y2="583.90" stroke="#6a6a6a" stroke-width="1.6"/>
<line x1="253.00" y1="612.90" x2="358.40" y2="612.90" stroke="#a8a8a8" stroke-width="2"/>
<line x1="253.00" y1="536.90" x2="253.00" y2="613.90" stroke="#8a8a8a" stroke-width="1.8"/>
<polyline points="253.00,583.90 264.71,585.76 276.42,582.97 288.13,584.25 299.84,587.96 311.56,595.85 323.27,592.54 334.98,591.27 346.69,595.27 358.40,594.34" fill="none" stroke="#2a6d9c" stroke-width="1.4" stroke-linejoin="round"/>
<polyline points="253.00,583.90 264.71,581.52 276.42,579.67 288.13,578.39 299.84,577.29 311.56,584.25 323.27,581.00 334.98,577.52 346.69,576.01 358.40,574.74" fill="none" stroke="#cf7850" stroke-width="1.4" stroke-linejoin="round"/>
<line x1="369.25" y1="554.90" x2="474.65" y2="554.90" stroke="#e0e0e0" stroke-width="1.3"/>
<line x1="427.81" y1="536.90" x2="427.81" y2="612.90" stroke="#e0e0e0" stroke-width="1.2"/>
<rect x="370.25" y="536.90" width="52.64" height="16.80" fill="#fff"/>
<text x="370.55" y="549.30" class="cn">Sweden</text>
<line x1="369.25" y1="583.90" x2="474.65" y2="583.90" stroke="#6a6a6a" stroke-width="1.6"/>
<line x1="369.25" y1="612.90" x2="474.65" y2="612.90" stroke="#a8a8a8" stroke-width="2"/>
<line x1="369.25" y1="536.90" x2="369.25" y2="613.90" stroke="#8a8a8a" stroke-width="1.8"/>
<polyline points="369.25,583.90 380.96,584.25 392.67,585.18 404.38,586.10 416.09,587.38 427.81,592.54 439.52,590.16 451.23,593.06 462.94,592.54 474.65,590.69" fill="none" stroke="#2a6d9c" stroke-width="1.4" stroke-linejoin="round"/>
<polyline points="369.25,583.90 380.96,582.80 392.67,581.17 404.38,579.67 416.09,578.39 427.81,580.25 439.52,576.53 451.23,574.33 462.94,574.33 474.65,574.33" fill="none" stroke="#cf7850" stroke-width="1.4" stroke-linejoin="round"/>
<line x1="485.50" y1="554.90" x2="590.90" y2="554.90" stroke="#e0e0e0" stroke-width="1.3"/>
<line x1="544.06" y1="536.90" x2="544.06" y2="612.90" stroke="#e0e0e0" stroke-width="1.2"/>
<rect x="486.50" y="536.90" width="73.80" height="16.80" fill="#fff"/>
<text x="486.80" y="549.30" class="cn">Switzerland</text>
<line x1="485.50" y1="583.90" x2="590.90" y2="583.90" stroke="#6a6a6a" stroke-width="1.6"/>
<line x1="485.50" y1="612.90" x2="590.90" y2="612.90" stroke="#a8a8a8" stroke-width="2"/>
<line x1="485.50" y1="536.90" x2="485.50" y2="613.90" stroke="#8a8a8a" stroke-width="1.8"/>
<polyline points="485.50,583.90 497.21,583.38 508.92,584.25 520.63,586.10 532.34,586.45 544.06,590.34 555.77,588.31 567.48,592.54 579.19,593.82 590.90,593.82" fill="none" stroke="#2a6d9c" stroke-width="1.4" stroke-linejoin="round"/>
<polyline points="485.50,583.90 497.21,582.80 508.92,581.52 520.63,579.67 532.34,579.14 544.06,580.59 555.77,577.29 567.48,575.66 579.19,575.08 590.90,574.33" fill="none" stroke="#cf7850" stroke-width="1.4" stroke-linejoin="round"/>
<line x1="601.75" y1="554.90" x2="707.15" y2="554.90" stroke="#e0e0e0" stroke-width="1.3"/>
<line x1="660.31" y1="536.90" x2="660.31" y2="612.90" stroke="#e0e0e0" stroke-width="1.2"/>
<rect x="602.75" y="536.90" width="45.83" height="16.80" fill="#fff"/>
<text x="603.05" y="549.30" class="cn">Taiwan</text>
<line x1="601.75" y1="583.90" x2="707.15" y2="583.90" stroke="#6a6a6a" stroke-width="1.6"/>
<line x1="601.75" y1="612.90" x2="707.15" y2="612.90" stroke="#c4c4c4" stroke-width="1.6"/>
<line x1="601.75" y1="536.90" x2="601.75" y2="613.90" stroke="#9a9a9a" stroke-width="1.1"/>
<polyline points="601.75,583.90 613.46,582.97 625.17,581.52 636.88,582.04 648.59,583.90 660.31,584.25 672.02,582.04 683.73,583.90 695.44,585.18 707.15,586.45" fill="none" stroke="#2a6d9c" stroke-width="1.4" stroke-linejoin="round"/>
<polyline points="601.75,583.90 613.46,582.45 625.17,580.25 636.88,578.39 648.59,576.53 660.31,574.74 672.02,570.56 683.73,568.30 695.44,567.20 707.15,565.34" fill="none" stroke="#cf7850" stroke-width="1.4" stroke-linejoin="round"/>
<line x1="718.00" y1="554.90" x2="823.40" y2="554.90" stroke="#e0e0e0" stroke-width="1.3"/>
<line x1="776.56" y1="536.90" x2="776.56" y2="612.90" stroke="#e0e0e0" stroke-width="1.2"/>
<rect x="719.00" y="536.90" width="55.66" height="16.80" fill="#fff"/>
<text x="719.30" y="549.30" class="cn">Thailand</text>
<line x1="718.00" y1="583.90" x2="823.40" y2="583.90" stroke="#6a6a6a" stroke-width="1.6"/>
<line x1="718.00" y1="612.90" x2="823.40" y2="612.90" stroke="#a8a8a8" stroke-width="2"/>
<line x1="718.00" y1="536.90" x2="718.00" y2="613.90" stroke="#8a8a8a" stroke-width="1.8"/>
<polyline points="718.00,583.90 729.71,583.55 741.42,583.55 753.13,581.70 764.84,583.55 776.56,585.18 788.27,586.63 799.98,584.83 811.69,587.03 823.40,586.28" fill="none" stroke="#2a6d9c" stroke-width="1.4" stroke-linejoin="round"/>
<polyline points="718.00,583.90 729.71,582.45 741.42,579.49 753.13,576.94 764.84,575.43 776.56,579.67 788.27,578.22 799.98,576.71 811.69,575.43 823.40,573.98" fill="none" stroke="#cf7850" stroke-width="1.4" stroke-linejoin="round"/>
<line x1="834.25" y1="554.90" x2="939.65" y2="554.90" stroke="#e0e0e0" stroke-width="1.3"/>
<line x1="892.81" y1="536.90" x2="892.81" y2="612.90" stroke="#e0e0e0" stroke-width="1.2"/>
<rect x="835.25" y="536.90" width="100.26" height="16.80" fill="#fff"/>
<text x="835.55" y="549.30" class="cn">United Kingdom</text>
<line x1="834.25" y1="583.90" x2="939.65" y2="583.90" stroke="#6a6a6a" stroke-width="1.6"/>
<line x1="834.25" y1="612.90" x2="939.65" y2="612.90" stroke="#a8a8a8" stroke-width="2"/>
<line x1="834.25" y1="536.90" x2="834.25" y2="613.90" stroke="#8a8a8a" stroke-width="1.8"/>
<polyline points="834.25,583.90 845.96,587.03 857.67,588.83 869.38,589.76 881.09,591.61 892.81,596.78 904.52,594.34 916.23,598.98 927.94,599.33 939.65,598.57" fill="none" stroke="#2a6d9c" stroke-width="1.4" stroke-linejoin="round"/>
<polyline points="834.25,583.90 845.96,582.45 857.67,581.35 869.38,580.42 881.09,579.49 892.81,585.35 904.52,580.77 916.23,578.04 927.94,578.04 939.65,578.04" fill="none" stroke="#cf7850" stroke-width="1.4" stroke-linejoin="round"/>
<line x1="950.50" y1="554.90" x2="1055.90" y2="554.90" stroke="#e0e0e0" stroke-width="1.3"/>
<line x1="1009.06" y1="536.90" x2="1009.06" y2="612.90" stroke="#e0e0e0" stroke-width="1.2"/>
<rect x="951.50" y="536.90" width="31.46" height="16.80" fill="#fff"/>
<text x="951.80" y="549.30" class="cn">USA</text>
<line x1="950.50" y1="583.90" x2="1055.90" y2="583.90" stroke="#6a6a6a" stroke-width="1.6"/>
<line x1="950.50" y1="612.90" x2="1055.90" y2="612.90" stroke="#a8a8a8" stroke-width="2"/>
<line x1="950.50" y1="536.90" x2="950.50" y2="613.90" stroke="#8a8a8a" stroke-width="1.8"/>
<polyline points="950.50,583.90 962.21,584.89 973.92,585.87 985.63,583.90 997.34,584.25 1009.06,591.03 1020.77,587.61 1032.48,587.09 1044.19,588.60 1055.90,588.83" fill="none" stroke="#2a6d9c" stroke-width="1.4" stroke-linejoin="round"/>
<polyline points="950.50,583.90 962.21,582.68 973.92,581.17 985.63,579.32 997.34,577.75 1009.06,579.09 1020.77,576.01 1032.48,574.39 1044.19,572.82 1055.90,570.97" fill="none" stroke="#cf7850" stroke-width="1.4" stroke-linejoin="round"/>
<text x="249.7" y="558.50" class="yl" text-anchor="end">+50%</text>
<text x="249.7" y="587.50" class="yl" text-anchor="end">0%</text>
<text x="249.7" y="616.50" class="yl" text-anchor="end">-50%</text>
<text x="250.50" y="625.50" class="yr">2015</text>
<text x="311.56" y="625.50" class="yr" text-anchor="middle">2020</text>
<text x="360.40" y="625.50" class="yr" text-anchor="end">2024</text>
<text x="366.75" y="625.50" class="yr">2015</text>
<text x="427.81" y="625.50" class="yr" text-anchor="middle">2020</text>
<text x="476.65" y="625.50" class="yr" text-anchor="end">2024</text>
<text x="483.00" y="625.50" class="yr">2015</text>
<text x="544.06" y="625.50" class="yr" text-anchor="middle">2020</text>
<text x="592.90" y="625.50" class="yr" text-anchor="end">2024</text>
<text x="599.25" y="625.50" class="yr">2015</text>
<text x="660.31" y="625.50" class="yr" text-anchor="middle">2020</text>
<text x="709.15" y="625.50" class="yr" text-anchor="end">2024</text>
<text x="715.50" y="625.50" class="yr">2015</text>
<text x="776.56" y="625.50" class="yr" text-anchor="middle">2020</text>
<text x="825.40" y="625.50" class="yr" text-anchor="end">2024</text>
<text x="831.75" y="625.50" class="yr">2015</text>
<text x="892.81" y="625.50" class="yr" text-anchor="middle">2020</text>
<text x="941.65" y="625.50" class="yr" text-anchor="end">2024</text>
<text x="948.00" y="625.50" class="yr">2015</text>
<text x="1009.06" y="625.50" class="yr" text-anchor="middle">2020</text>
<text x="1057.90" y="625.50" class="yr" text-anchor="end">2024</text>
<text x="1070.5" y="222.60" class="lg" fill="#cf7850">GDP</text>
<text x="1070.5" y="246.90" class="lg" fill="#2a6d9c">CO<tspan dy="2.6" font-size="8">2</tspan></text>
<text x="1070.5" y="284.40" class="lg" fill="#cf7850">GDP</text>
<text x="1070.5" y="331.90" class="lg" fill="#2a6d9c">CO<tspan dy="2.6" font-size="8">2</tspan></text>
<text x="1070.5" y="403.30" class="lg" fill="#cf7850">GDP</text>
<text x="1070.5" y="422.10" class="lg" fill="#2a6d9c">CO<tspan dy="2.6" font-size="8">2</tspan></text>
<text x="1070.5" y="482.30" class="lg" fill="#cf7850">GDP</text>
<text x="1070.5" y="502.80" class="lg" fill="#2a6d9c">CO<tspan dy="2.6" font-size="8">2</tspan></text>
<text x="1070.5" y="573.60" class="lg" fill="#cf7850">GDP</text>
<text x="1070.5" y="591.40" class="lg" fill="#2a6d9c">CO<tspan dy="2.6" font-size="8">2</tspan></text>
<rect x="597.2" y="529.1" width="119.8" height="98.6" fill="none" stroke="#a11d1d" stroke-width="3.8"/>
<g fill="none" stroke="#cfcfcf" stroke-width="1.2"><circle cx="231.9" cy="651.1" r="5.1"/><circle cx="246" cy="651.1" r="5.1"/></g>
<text x="228.6" y="653.3" font-size="5.5" fill="#cfcfcf" font-weight="bold">cc</text>
<g fill="#cfcfcf"><circle cx="246" cy="647.8" r="1.1"/><rect x="244.6" y="649.3" width="2.8" height="3.2"/><rect x="245.3" y="652" width="1.4" height="2.6"/></g>
<text x="254" y="656" font-size="15.5" fill="#c8c8c8" textLength="146.5" lengthAdjust="spacingAndGlyphs">Global Carbon Project</text>
<circle cx="416.4" cy="650.8" r="2.3" fill="#cdcdcd"/>
<text x="431.5" y="656" font-size="15.5" fill="#c8c8c8" textLength="285" lengthAdjust="spacingAndGlyphs">Trends are statistically significant at p=0.05</text>
<text x="408.6" y="700.5" font-size="17" fill="#5a80a2" textLength="58" lengthAdjust="spacingAndGlyphs">Source:</text>
<text x="469.3" y="700.5" font-size="17" fill="#2c2c8c" textLength="184.5" lengthAdjust="spacingAndGlyphs">Friedlingstein et al 2025</text>
<rect x="470" y="702.6" width="183.4" height="1.2" fill="#2c2c8c"/>
<text x="654.6" y="700.5" font-size="17" fill="#5a80a2">;</text>
<text x="661.8" y="700.5" font-size="17" fill="#2c2c8c" textLength="209.5" lengthAdjust="spacingAndGlyphs">Global Carbon Project 2025</text>
<rect x="662.2" y="702.6" width="209.6" height="1.2" fill="#2c2c8c"/>
</svg>
</body></html>
